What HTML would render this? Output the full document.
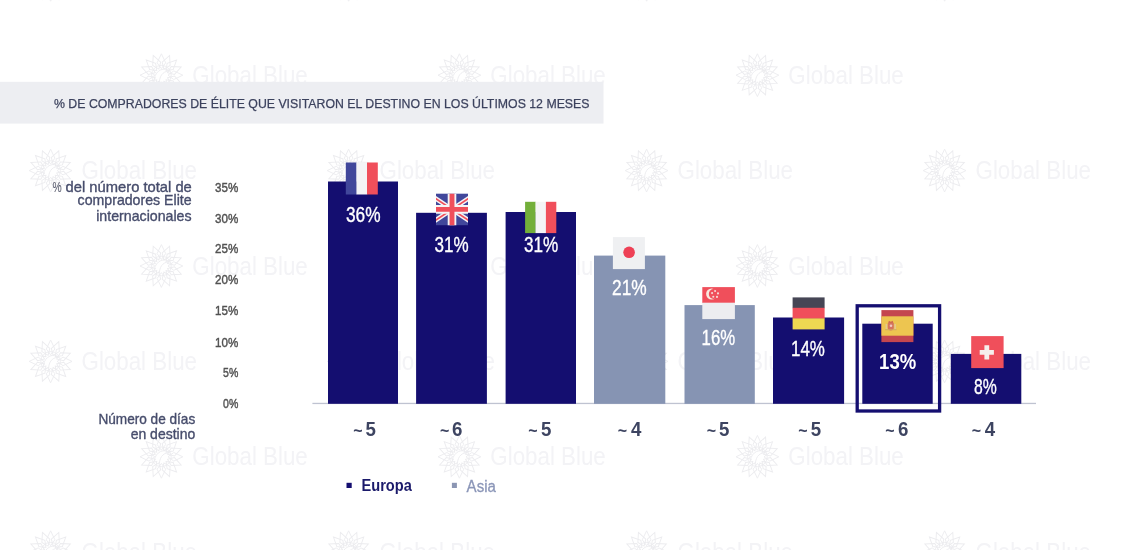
<!DOCTYPE html>
<html lang="es">
<head>
<meta charset="utf-8">
<title>% de compradores de élite que visitaron el destino en los últimos 12 meses</title>
<style>
html,body{margin:0;padding:0;background:#fff;}
body{width:1132px;height:550px;overflow:hidden;position:relative;}
svg{display:block;position:absolute;left:0;top:0;}
text{font-family:"Liberation Sans",sans-serif;}
</style>
</head>
<body>
<svg width="1132" height="550" viewBox="0 0 1132 550">
<defs>

<g id="wm" fill="none" stroke="#ececef" stroke-width="0.95"><path d="M20.6 -0.2 L24.9 8.8 L20.6 14.6 L16.3 8.8 Z" transform="rotate(0.0 20.6 21.2)"/><path d="M20.6 -0.2 L24.9 8.8 L20.6 14.6 L16.3 8.8 Z" transform="rotate(22.5 20.6 21.2)"/><path d="M20.6 -0.2 L24.9 8.8 L20.6 14.6 L16.3 8.8 Z" transform="rotate(45.0 20.6 21.2)"/><path d="M20.6 -0.2 L24.9 8.8 L20.6 14.6 L16.3 8.8 Z" transform="rotate(67.5 20.6 21.2)"/><path d="M20.6 -0.2 L24.9 8.8 L20.6 14.6 L16.3 8.8 Z" transform="rotate(90.0 20.6 21.2)"/><path d="M20.6 -0.2 L24.9 8.8 L20.6 14.6 L16.3 8.8 Z" transform="rotate(112.5 20.6 21.2)"/><path d="M20.6 -0.2 L24.9 8.8 L20.6 14.6 L16.3 8.8 Z" transform="rotate(135.0 20.6 21.2)"/><path d="M20.6 -0.2 L24.9 8.8 L20.6 14.6 L16.3 8.8 Z" transform="rotate(157.5 20.6 21.2)"/><path d="M20.6 -0.2 L24.9 8.8 L20.6 14.6 L16.3 8.8 Z" transform="rotate(180.0 20.6 21.2)"/><path d="M20.6 -0.2 L24.9 8.8 L20.6 14.6 L16.3 8.8 Z" transform="rotate(202.5 20.6 21.2)"/><path d="M20.6 -0.2 L24.9 8.8 L20.6 14.6 L16.3 8.8 Z" transform="rotate(225.0 20.6 21.2)"/><path d="M20.6 -0.2 L24.9 8.8 L20.6 14.6 L16.3 8.8 Z" transform="rotate(247.5 20.6 21.2)"/><path d="M20.6 -0.2 L24.9 8.8 L20.6 14.6 L16.3 8.8 Z" transform="rotate(270.0 20.6 21.2)"/><path d="M20.6 -0.2 L24.9 8.8 L20.6 14.6 L16.3 8.8 Z" transform="rotate(292.5 20.6 21.2)"/><path d="M20.6 -0.2 L24.9 8.8 L20.6 14.6 L16.3 8.8 Z" transform="rotate(315.0 20.6 21.2)"/><path d="M20.6 -0.2 L24.9 8.8 L20.6 14.6 L16.3 8.8 Z" transform="rotate(337.5 20.6 21.2)"/><circle cx="20.6" cy="21.2" r="9.8"/><path d="M13.4 25 C15 15.6 24.2 12.6 28.8 17.2 C24.2 16.8 19 19.8 18.6 28"/></g>
</defs>

<g id="watermarks">
<use href="#wm" x="30.0" y="-41.4"/>
<use href="#wm" x="328.0" y="-41.4"/>
<use href="#wm" x="626.0" y="-41.4"/>
<use href="#wm" x="924.0" y="-41.4"/>
<use href="#wm" x="140.8" y="54.0"/>
<text x="192.3" y="83.8" font-size="25" fill="#f3f3f6" textLength="115.5" lengthAdjust="spacingAndGlyphs">Global Blue</text>
<use href="#wm" x="438.8" y="54.0"/>
<text x="490.3" y="83.8" font-size="25" fill="#f3f3f6" textLength="115.5" lengthAdjust="spacingAndGlyphs">Global Blue</text>
<use href="#wm" x="736.8" y="54.0"/>
<text x="788.3" y="83.8" font-size="25" fill="#f3f3f6" textLength="115.5" lengthAdjust="spacingAndGlyphs">Global Blue</text>
<use href="#wm" x="30.0" y="149.4"/>
<text x="81.5" y="179.2" font-size="25" fill="#f3f3f6" textLength="115.5" lengthAdjust="spacingAndGlyphs">Global Blue</text>
<use href="#wm" x="328.0" y="149.4"/>
<text x="379.5" y="179.2" font-size="25" fill="#f3f3f6" textLength="115.5" lengthAdjust="spacingAndGlyphs">Global Blue</text>
<use href="#wm" x="626.0" y="149.4"/>
<text x="677.5" y="179.2" font-size="25" fill="#f3f3f6" textLength="115.5" lengthAdjust="spacingAndGlyphs">Global Blue</text>
<use href="#wm" x="924.0" y="149.4"/>
<text x="975.5" y="179.2" font-size="25" fill="#f3f3f6" textLength="115.5" lengthAdjust="spacingAndGlyphs">Global Blue</text>
<use href="#wm" x="140.8" y="244.8"/>
<text x="192.3" y="274.6" font-size="25" fill="#f3f3f6" textLength="115.5" lengthAdjust="spacingAndGlyphs">Global Blue</text>
<use href="#wm" x="438.8" y="244.8"/>
<text x="490.3" y="274.6" font-size="25" fill="#f3f3f6" textLength="115.5" lengthAdjust="spacingAndGlyphs">Global Blue</text>
<use href="#wm" x="736.8" y="244.8"/>
<text x="788.3" y="274.6" font-size="25" fill="#f3f3f6" textLength="115.5" lengthAdjust="spacingAndGlyphs">Global Blue</text>
<use href="#wm" x="30.0" y="340.2"/>
<text x="81.5" y="370.0" font-size="25" fill="#f3f3f6" textLength="115.5" lengthAdjust="spacingAndGlyphs">Global Blue</text>
<use href="#wm" x="328.0" y="340.2"/>
<text x="379.5" y="370.0" font-size="25" fill="#f3f3f6" textLength="115.5" lengthAdjust="spacingAndGlyphs">Global Blue</text>
<use href="#wm" x="626.0" y="340.2"/>
<text x="677.5" y="370.0" font-size="25" fill="#f3f3f6" textLength="115.5" lengthAdjust="spacingAndGlyphs">Global Blue</text>
<use href="#wm" x="924.0" y="340.2"/>
<text x="975.5" y="370.0" font-size="25" fill="#f3f3f6" textLength="115.5" lengthAdjust="spacingAndGlyphs">Global Blue</text>
<use href="#wm" x="140.8" y="435.6"/>
<text x="192.3" y="465.4" font-size="25" fill="#f3f3f6" textLength="115.5" lengthAdjust="spacingAndGlyphs">Global Blue</text>
<use href="#wm" x="438.8" y="435.6"/>
<text x="490.3" y="465.4" font-size="25" fill="#f3f3f6" textLength="115.5" lengthAdjust="spacingAndGlyphs">Global Blue</text>
<use href="#wm" x="736.8" y="435.6"/>
<text x="788.3" y="465.4" font-size="25" fill="#f3f3f6" textLength="115.5" lengthAdjust="spacingAndGlyphs">Global Blue</text>
<use href="#wm" x="30.0" y="531.0"/>
<text x="81.5" y="560.8" font-size="25" fill="#f3f3f6" textLength="115.5" lengthAdjust="spacingAndGlyphs">Global Blue</text>
<use href="#wm" x="328.0" y="531.0"/>
<text x="379.5" y="560.8" font-size="25" fill="#f3f3f6" textLength="115.5" lengthAdjust="spacingAndGlyphs">Global Blue</text>
<use href="#wm" x="626.0" y="531.0"/>
<text x="677.5" y="560.8" font-size="25" fill="#f3f3f6" textLength="115.5" lengthAdjust="spacingAndGlyphs">Global Blue</text>
<use href="#wm" x="924.0" y="531.0"/>
<text x="975.5" y="560.8" font-size="25" fill="#f3f3f6" textLength="115.5" lengthAdjust="spacingAndGlyphs">Global Blue</text>
</g>

<rect x="0" y="81.8" width="603.5" height="41.8" fill="#edeef2"/>
<text x="54" y="107.7" font-size="13.6" font-weight="normal" fill="#3c425e" text-anchor="start" textLength="535.5" lengthAdjust="spacingAndGlyphs" stroke="#3c425e" stroke-width="0.25">% DE COMPRADORES DE ÉLITE QUE VISITARON EL DESTINO EN LOS ÚLTIMOS 12 MESES</text>
<text y="192.1" font-size="14.4" fill="#474d6c" stroke="#474d6c" stroke-width="0.35"><tspan x="52.6" textLength="9.2" lengthAdjust="spacingAndGlyphs" fill="#686a78" stroke-width="0.1">%</tspan><tspan x="65.6" textLength="126.2" lengthAdjust="spacingAndGlyphs">del número total de</tspan></text>
<text x="77.6" y="204.8" font-size="14.4" font-weight="normal" fill="#474d6c" text-anchor="start" textLength="114" lengthAdjust="spacingAndGlyphs" stroke="#474d6c" stroke-width="0.35">compradores Elite</text>
<text x="96.2" y="221" font-size="14.4" font-weight="normal" fill="#474d6c" text-anchor="start" textLength="95.4" lengthAdjust="spacingAndGlyphs" stroke="#474d6c" stroke-width="0.35">internacionales</text>
<text x="215.1" y="192.1" font-size="13.6" font-weight="normal" fill="#525252" text-anchor="start" textLength="23.2" lengthAdjust="spacingAndGlyphs" stroke="#525252" stroke-width="0.45">35%</text>
<text x="215.1" y="222.6" font-size="13.6" font-weight="normal" fill="#525252" text-anchor="start" textLength="23.2" lengthAdjust="spacingAndGlyphs" stroke="#525252" stroke-width="0.45">30%</text>
<text x="215.1" y="253.2" font-size="13.6" font-weight="normal" fill="#525252" text-anchor="start" textLength="23.2" lengthAdjust="spacingAndGlyphs" stroke="#525252" stroke-width="0.45">25%</text>
<text x="215.1" y="283.7" font-size="13.6" font-weight="normal" fill="#525252" text-anchor="start" textLength="23.2" lengthAdjust="spacingAndGlyphs" stroke="#525252" stroke-width="0.45">20%</text>
<text x="215.1" y="315.3" font-size="13.6" font-weight="normal" fill="#525252" text-anchor="start" textLength="23.2" lengthAdjust="spacingAndGlyphs" stroke="#525252" stroke-width="0.45">15%</text>
<text x="215.1" y="346.5" font-size="13.6" font-weight="normal" fill="#525252" text-anchor="start" textLength="23.2" lengthAdjust="spacingAndGlyphs" stroke="#525252" stroke-width="0.45">10%</text>
<text x="223.1" y="377.1" font-size="13.6" font-weight="normal" fill="#525252" text-anchor="start" textLength="15.2" lengthAdjust="spacingAndGlyphs" stroke="#525252" stroke-width="0.45">5%</text>
<text x="223.1" y="408.1" font-size="13.6" font-weight="normal" fill="#525252" text-anchor="start" textLength="15.2" lengthAdjust="spacingAndGlyphs" stroke="#525252" stroke-width="0.45">0%</text>
<rect x="312.4" y="402.8" width="723.6" height="1.3" fill="#bfc3d1"/>
<g id="bars">
<rect x="328.0" y="181.5" width="70.0" height="222.3" fill="#140e70"/>
<rect x="416.1" y="212.8" width="70.8" height="191.0" fill="#140e70"/>
<rect x="505.6" y="212.0" width="70.4" height="191.8" fill="#140e70"/>
<rect x="594.0" y="255.6" width="71.3" height="148.2" fill="#8694b3"/>
<rect x="684.5" y="305.1" width="70.3" height="98.7" fill="#8694b3"/>
<rect x="773.0" y="317.5" width="71.1" height="86.3" fill="#140e70"/>
<rect x="862.3" y="323.7" width="70.4" height="80.1" fill="#140e70"/>
<rect x="950.8" y="353.9" width="70.5" height="49.9" fill="#140e70"/>
</g>

<rect x="857.2" y="305.8" width="82.4" height="105.2" fill="none" stroke="#140e70" stroke-width="3.3"/>
<g id="flags">
<g id="flag-fr" transform="translate(345.8 162.5)"><rect width="10.9" height="32" fill="#41479b"/><rect x="10.6" width="10.8" height="32" fill="#f4f4f6"/><rect x="21.2" width="10.8" height="32" fill="#f04f5b"/></g>
<g id="flag-gb" transform="translate(436.0 193.4)"><svg width="32" height="32" viewBox="0 0 32 32" overflow="hidden"><rect width="32" height="32" fill="#41479b"/><path d="M-8 0 L40 32 M40 0 L-8 32" stroke="#f4f4f6" stroke-width="4.6"/><path d="M-8 0 L40 32 M40 0 L-8 32" stroke="#f04f5b" stroke-width="1.7"/><path d="M16 0 V32 M0 16 H32" stroke="#f4f4f6" stroke-width="8.6"/><path d="M16 0 V32 M0 16 H32" stroke="#f04f5b" stroke-width="4.9"/></svg></g>
<g id="flag-it" transform="translate(525.1 201.8)"><rect width="10.7" height="31.3" fill="#73af3a"/><rect x="10.4" width="10.6" height="31.3" fill="#f4f4f6"/><rect x="20.8" width="10.4" height="31.3" fill="#f04f5b"/></g>
<g id="flag-jp" transform="translate(612.9 237.1)"><rect width="32" height="32" fill="#eff0f2"/><circle cx="16.2" cy="15.2" r="5.8" fill="#ee4156"/></g>
<g id="flag-sg" transform="translate(702.3 287.1)"><rect width="32.6" height="16" fill="#f04f5b"/><rect y="15.6" width="32.6" height="16.4" fill="#ededf0"/><circle cx="9.3" cy="6.9" r="5.5" fill="#f8eadf"/><circle cx="11.4" cy="6.9" r="4.9" fill="#f04f5b"/><circle cx="12.8" cy="3.9" r="1.05" fill="#f6d9d6"/><circle cx="9.8" cy="6.0" r="1.05" fill="#f6d9d6"/><circle cx="15.7" cy="6.3" r="1.05" fill="#f6d9d6"/><circle cx="11.0" cy="9.6" r="1.05" fill="#f6d9d6"/><circle cx="14.7" cy="9.8" r="1.05" fill="#f6d9d6"/></g>
<g id="flag-de" transform="translate(792.6 297.4)"><rect width="32" height="10.8" fill="#464655"/><rect y="10.4" width="32" height="11" fill="#f04f5b"/><rect y="21" width="32" height="11" fill="#eed852"/></g>
<g id="flag-es" transform="translate(881.4 310.1)"><rect width="32" height="32" fill="#c4464f"/><rect y="6.2" width="32" height="19.4" fill="#edc550"/><rect x="4.2" y="13.8" width="1.6" height="5.6" fill="#e3c98e"/><rect x="13" y="13.8" width="1.6" height="5.6" fill="#e3c98e"/><path d="M6.4 13 h6 v4.4 a3 3 0 0 1 -6 0 z" fill="#d4745e"/><path d="M6.8 12.8 l0.7 -2.2 l1.9 1 l1.9 -1 l0.7 2.2 z" fill="#cf6a52"/><rect x="3.6" y="19.2" width="11.6" height="0.9" fill="#d2a860"/><circle cx="9.6" cy="15.6" r="1.3" fill="#f2c6c0"/></g>
<g id="flag-ch" transform="translate(971.2 336.1)"><rect width="32.4" height="32" fill="#f04f5b"/><path d="M13.2 9.1 h4.8 v4.7 h4.7 v4.8 h-4.7 v4.7 h-4.8 v-4.7 h-4.7 v-4.8 h4.7 z" fill="#f6efec"/></g>
</g>

<g id="values">
<text x="346.0" y="222.2" font-size="21.6" font-weight="normal" fill="#ffffff" text-anchor="start" textLength="34.6" lengthAdjust="spacingAndGlyphs" stroke="#ffffff" stroke-width="0.35">36%</text>
<text x="434.5" y="251.8" font-size="21.6" font-weight="normal" fill="#ffffff" text-anchor="start" textLength="34.1" lengthAdjust="spacingAndGlyphs" stroke="#ffffff" stroke-width="0.35">31%</text>
<text x="524.0" y="252.3" font-size="21.6" font-weight="normal" fill="#ffffff" text-anchor="start" textLength="34.3" lengthAdjust="spacingAndGlyphs" stroke="#ffffff" stroke-width="0.35">31%</text>
<text x="612.0" y="295.3" font-size="21.6" font-weight="normal" fill="#ffffff" text-anchor="start" textLength="34.7" lengthAdjust="spacingAndGlyphs" stroke="#ffffff" stroke-width="0.35">21%</text>
<text x="701.6" y="345.0" font-size="21.6" font-weight="normal" fill="#ffffff" text-anchor="start" textLength="33.6" lengthAdjust="spacingAndGlyphs" stroke="#ffffff" stroke-width="0.35">16%</text>
<text x="791.0" y="356.0" font-size="21.6" font-weight="normal" fill="#ffffff" text-anchor="start" textLength="33.9" lengthAdjust="spacingAndGlyphs" stroke="#ffffff" stroke-width="0.35">14%</text>
<text x="879.1" y="368.8" font-size="21.6" font-weight="bold" fill="#ffffff" text-anchor="start" textLength="37.1" lengthAdjust="spacingAndGlyphs">13%</text>
<text x="974.0" y="393.6" font-size="21.6" font-weight="normal" fill="#ffffff" text-anchor="start" textLength="22.8" lengthAdjust="spacingAndGlyphs" stroke="#ffffff" stroke-width="0.35">8%</text>
</g>

<g id="days">
<text y="436.3" font-weight="bold" fill="#3d4461"><tspan x="353.3" font-size="16">~</tspan><tspan x="365.4" font-size="19.6" textLength="10.4" lengthAdjust="spacingAndGlyphs">5</tspan></text>
<text y="436.3" font-weight="bold" fill="#3d4461"><tspan x="439.9" font-size="16">~</tspan><tspan x="452.0" font-size="19.6" textLength="10.4" lengthAdjust="spacingAndGlyphs">6</tspan></text>
<text y="436.3" font-weight="bold" fill="#3d4461"><tspan x="528.2" font-size="16">~</tspan><tspan x="541.0" font-size="19.6" textLength="10.4" lengthAdjust="spacingAndGlyphs">5</tspan></text>
<text y="436.3" font-weight="bold" fill="#3d4461"><tspan x="617.7" font-size="16">~</tspan><tspan x="631.1" font-size="19.6" textLength="10.4" lengthAdjust="spacingAndGlyphs">4</tspan></text>
<text y="436.3" font-weight="bold" fill="#3d4461"><tspan x="706.8" font-size="16">~</tspan><tspan x="719.1" font-size="19.6" textLength="10.4" lengthAdjust="spacingAndGlyphs">5</tspan></text>
<text y="436.3" font-weight="bold" fill="#3d4461"><tspan x="798.3" font-size="16">~</tspan><tspan x="810.7" font-size="19.6" textLength="10.4" lengthAdjust="spacingAndGlyphs">5</tspan></text>
<text y="436.3" font-weight="bold" fill="#3d4461"><tspan x="885.2" font-size="16">~</tspan><tspan x="898.0" font-size="19.6" textLength="10.4" lengthAdjust="spacingAndGlyphs">6</tspan></text>
<text y="436.3" font-weight="bold" fill="#3d4461"><tspan x="971.8" font-size="16">~</tspan><tspan x="984.7" font-size="19.6" textLength="10.4" lengthAdjust="spacingAndGlyphs">4</tspan></text>
</g>

<text x="98.5" y="423.6" font-size="14.2" font-weight="normal" fill="#474d6c" text-anchor="start" textLength="96.7" lengthAdjust="spacingAndGlyphs" stroke="#474d6c" stroke-width="0.35">Número de días</text>
<text x="130.7" y="439.2" font-size="14.2" font-weight="normal" fill="#474d6c" text-anchor="start" textLength="64.5" lengthAdjust="spacingAndGlyphs" stroke="#474d6c" stroke-width="0.35">en destino</text>
<rect x="346.5" y="482.8" width="5.2" height="5.2" fill="#140e70"/>
<text x="361.5" y="490.8" font-size="16.3" font-weight="bold" fill="#1b1a6b" text-anchor="start" textLength="50.3" lengthAdjust="spacingAndGlyphs">Europa</text>
<rect x="451.9" y="482.8" width="5" height="5.2" fill="#8b96b3"/>
<text x="466.6" y="491.8" font-size="15.8" font-weight="normal" fill="#8b96b8" text-anchor="start" textLength="29.3" lengthAdjust="spacingAndGlyphs" stroke="#8b96b8" stroke-width="0.3">Asia</text>
</svg>
</body>
</html>
